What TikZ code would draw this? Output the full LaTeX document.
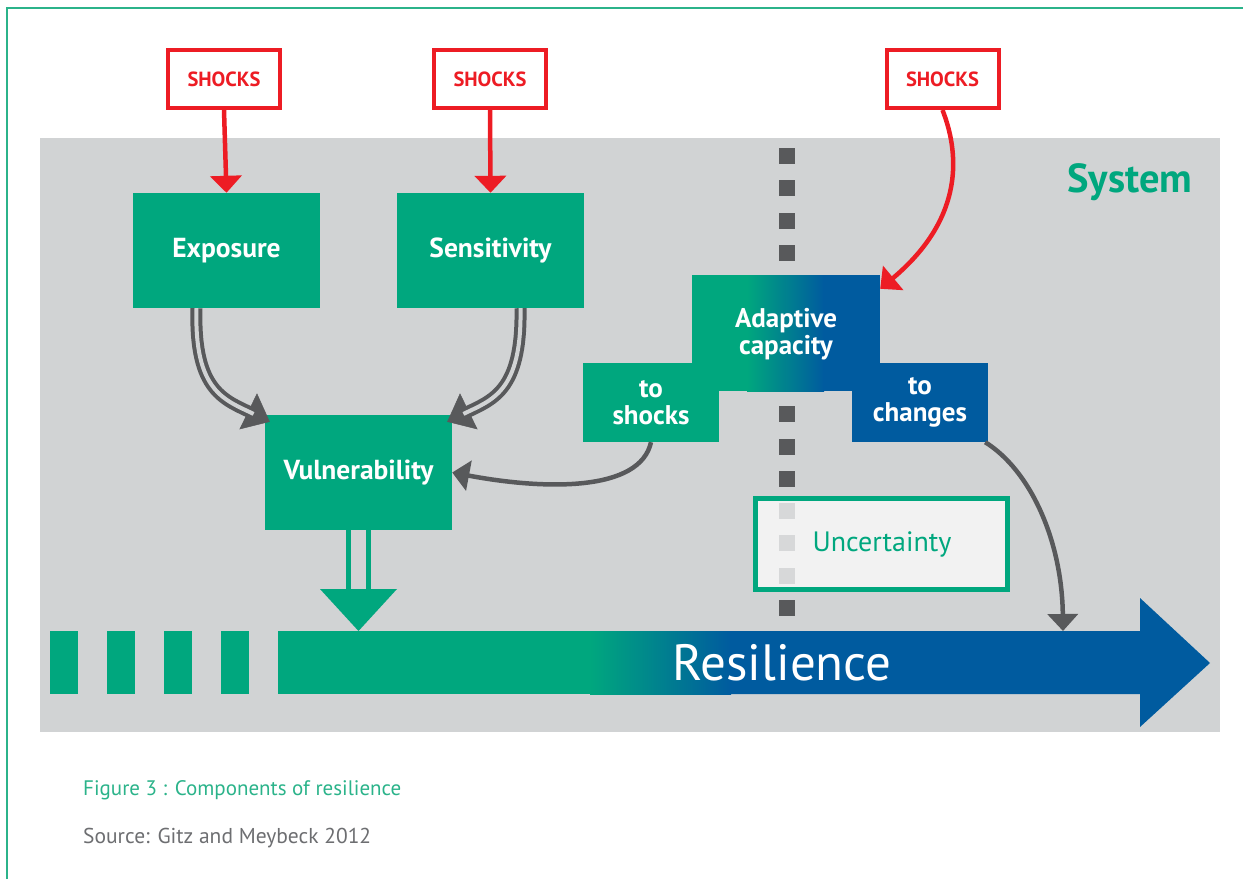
\documentclass[tikz,border=0pt]{standalone}
\usepackage{fontspec}
\setmainfont{PT Sans}
\usetikzlibrary{arrows.meta}
\definecolor{grn}{HTML}{00A77E}
\definecolor{blu}{HTML}{005B9F}
\definecolor{rd}{HTML}{ED1C24}
\definecolor{dg}{HTML}{58595B}
\definecolor{panel}{HTML}{D1D3D4}
\definecolor{lsq}{HTML}{D7D8D9}
\definecolor{uncf}{HTML}{F2F2F2}
\definecolor{capg}{HTML}{2BB38A}
\definecolor{srcg}{HTML}{6D6E71}
\begin{document}
\begin{tikzpicture}[x=1pt,y=-1pt,
  box/.style={fill=grn, text=white, font=\bfseries\fontsize{27.5}{28}\selectfont, inner sep=0pt, align=center, minimum width=187pt, minimum height=115pt},
  smallbox/.style={text=white, font=\bfseries\fontsize{27}{27}\selectfont, inner sep=0pt, align=center, minimum width=136pt, minimum height=79pt},
  shockbox/.style={draw=rd, line width=4pt, fill=white, text=rd, font=\bfseries\fontsize{20.5}{22}\selectfont, minimum width=112pt, minimum height=58pt, inner sep=0pt},
  redarrow/.style={draw=rd, line width=4.5pt, -{Triangle[length=17pt,width=31pt]}},
  grayarrow/.style={draw=dg, line width=4.5pt, -{Triangle[length=17pt,width=30pt]}},
  dblc/.style={draw=dg, line width=4pt, double=panel, double distance=4pt, shorten >=18pt},
  tipc/.style={draw=dg, line width=0.5pt, -{Triangle[length=24pt,width=40pt]}}
]
\useasboundingbox (0,0) rectangle (1243,879);
% frame
\draw[capg, line width=2pt] (7,879) -- (7,8) -- (1243,8);
% panel
\fill[panel] (40,138) rectangle (1220,732);
% dotted divider squares
\foreach \k in {0,1,2,3,8,9,10,14} {
  \fill[dg] (779,{156+32.29*\k-8}) rectangle (795,{156+32.29*\k+8});
}
% shocks boxes
\node[shockbox] (s1) at (224,79) {SHOCKS};
\node[shockbox] (s2) at (490,79) {SHOCKS};
\node[shockbox] (s3) at (942.5,79) {SHOCKS};
% main boxes
\node[box] (expo) at (226.5,250.5) {Exposure};
\node[box] (sens) at (490.5,250.5) {Sensitivity};
\node[box] (vuln) at (358.5,472.5) {Vulnerability};
% adaptive capacity
\fill[grn] (692,275) rectangle (748,391);
\shade[left color=grn, right color=blu] (747,275) rectangle (824,391);
\fill[blu] (823,275) rectangle (880,391);
\node[smallbox, minimum width=188pt, minimum height=116pt] (adapt) at (786,334) {Adaptive\\capacity};
\node[smallbox, fill=grn] (tos) at (651,402.5) {to\\shocks};
\node[smallbox, fill=blu] (tch) at (920,402.5) {to\\changes};
% uncertainty
\node[draw=grn, line width=5pt, fill=uncf, minimum width=252pt, minimum height=91pt, text=grn, font=\fontsize{28}{30}\selectfont, inner sep=0pt] (unc) at (881.5,544) {\hspace*{1pt}Uncertainty};
\foreach \k in {11,12,13} {
  \fill[lsq] (779,{156+32.29*\k-8}) rectangle (795,{156+32.29*\k+8});
}
% system label
\node[text=grn, font=\bfseries\fontsize{40.5}{42}\selectfont] (sys) at (1130,182) {System};
% resilience arrow
\foreach \xx in {50,107,164,221} { \fill[grn] (\xx,631) rectangle (\xx+28,694); }
\fill[grn] (278,631) rectangle (591,694);
\shade[left color=grn, right color=blu] (590,631) rectangle (731,694);
\fill[blu] (730,631) -- (1140,631) -- (1140,598) -- (1210,663) -- (1140,727) -- (1140,694) -- (730,694) -- cycle;
\node[text=white, font=\fontsize{51}{54}\selectfont] (res) at (782,663) {Resilience};
\coordinate (vtri) at (358.5,589);
\coordinate (rtop) at (1063,631);
% red arrows
\draw[redarrow] (s1.south) -- (expo.north);
\draw[redarrow] (s2.south) -- (sens.north);
\draw[redarrow] (s3.south) .. controls (962,160) and (960,222) .. ([yshift=-13pt]adapt.north east);
% double gray arrows
\draw[tipc] ([xshift=-30pt]expo.south) .. controls (194,392) and (225,400) .. ([shift={(5pt,-7pt)}]vuln.north west);
\draw[dblc] ([xshift=-30pt]expo.south) .. controls (194,392) and (225,400) .. ([shift={(5pt,-7pt)}]vuln.north west);
\draw[tipc] ([xshift=30pt]sens.south) .. controls (522,392) and (492,400) .. ([shift={(-5pt,-7pt)}]vuln.north east);
\draw[dblc] ([xshift=30pt]sens.south) .. controls (522,392) and (492,400) .. ([shift={(-5pt,-7pt)}]vuln.north east);
% gray single arrows
\draw[grayarrow] (tos.south) .. controls (640,492) and (545,490) .. (vuln.east);
\draw[grayarrow] ([xshift=-3pt]tch.south east) .. controls (1030,470) and (1062,540) .. (rtop);
% vulnerability to resilience
\draw[draw=grn, line width=5pt, double=panel, double distance=15pt] (vuln.south) -- (vtri);
\fill[grn] (320,589) -- (397,589) -- (358.5,631) -- cycle;
% caption
\node[anchor=west, text=capg, font=\fontsize{21}{23}\selectfont, inner sep=0pt] (cap) at (83,790) {Figure 3 : Components of resilience};
\node[anchor=west, text=srcg, font=\fontsize{21.5}{23}\selectfont, inner sep=0pt] (src) at (83,838) {Source: Gitz and Meybeck 2012};
\end{tikzpicture}
\end{document}
